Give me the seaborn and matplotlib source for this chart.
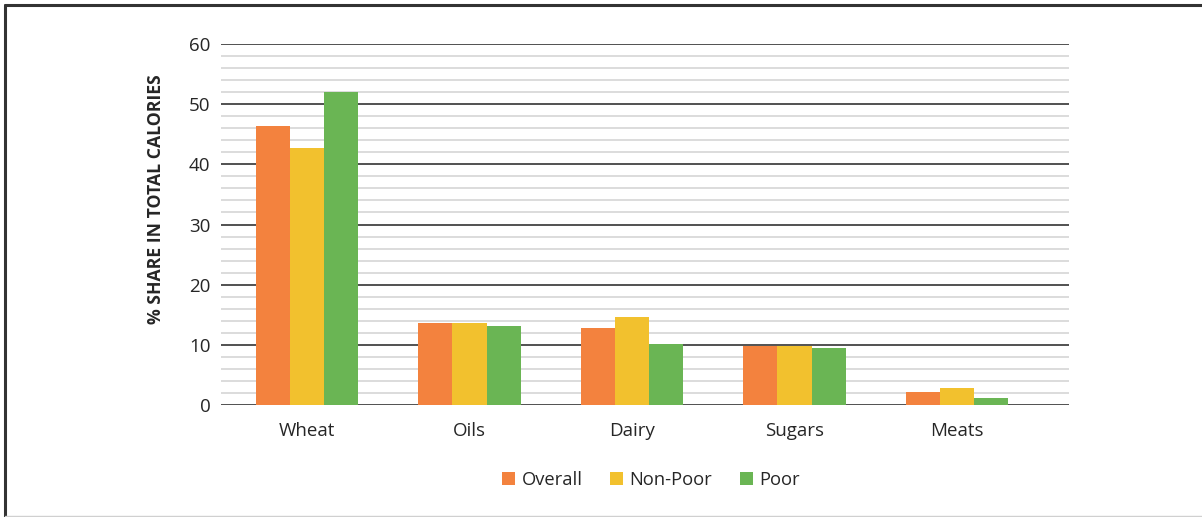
import matplotlib
matplotlib.use("Agg")
import matplotlib.pyplot as plt
from matplotlib.lines import Line2D
from matplotlib.ticker import MultipleLocator
import seaborn as sns
import pandas as pd

categories = ["Wheat", "Oils", "Dairy", "Sugars", "Meats"]
series_names = ["Overall", "Non-Poor", "Poor"]
overall = [46.4, 13.7, 12.8, 9.8, 2.1]
non_poor = [42.7, 13.7, 14.7, 9.8, 2.8]
poor = [52.0, 13.2, 10.1, 9.4, 1.2]
colors = ["#F3823E", "#F2C12E", "#6AB554"]
y_label = "% SHARE IN TOTAL CALORIES"

rows = []
for name, vals in zip(series_names, [overall, non_poor, poor]):
    for c, v in zip(categories, vals):
        rows.append({"Category": c, "Series": name, "Value": v})
df = pd.DataFrame(rows)

sns.set_theme(style="white")
plt.rcParams["font.family"] = ["Open Sans", "DejaVu Sans"]

fig = plt.figure(figsize=(12.02, 5.17), dpi=100)
ax = fig.add_axes([221/1202, 1-405/517, (1069-221)/1202, (405-44)/517])

sns.barplot(data=df, x="Category", y="Value", hue="Series", order=categories,
            hue_order=series_names, palette=colors, width=0.63, gap=0,
            saturation=1, ax=ax, zorder=3, edgecolor="none")

ax.set_ylim(0, 60)
ax.set_xlim(-0.529, 4.689)
ax.yaxis.set_major_locator(MultipleLocator(10))
ax.yaxis.set_minor_locator(MultipleLocator(2))
ax.grid(which="minor", axis="y", color="#D9D9D9", linewidth=1.3, zorder=0)
ax.grid(which="major", axis="y", color="#333333", linewidth=1.2, zorder=1)
ax.set_axisbelow(True)
for s in ax.spines.values():
    s.set_visible(False)
ax.tick_params(axis="both", which="both", length=0, labelsize=13.5, colors="#262626")
ax.tick_params(axis="y", pad=7.5)
ax.tick_params(axis="x", pad=12)
ax.set_xlabel("")
ax.set_ylabel(y_label, fontsize=12.7, fontweight="bold", color="#262626")
ax.yaxis.set_label_coords(-0.0655, 0.571)

handles, labels = ax.get_legend_handles_labels()
ax.legend_.remove()
fig.legend(handles, labels, loc="center", bbox_to_anchor=(651/1202, 1-480/517), ncol=3,
           frameon=False, fontsize=13.2, handlelength=0.7, handleheight=0.7,
           columnspacing=1.5, handletextpad=0.35, labelcolor="#262626")

# figure frame
fig.add_artist(Line2D([5/1202, 5/1202], [0, 1-5/517], color="#333333", linewidth=2.2, transform=fig.transFigure))
fig.add_artist(Line2D([5/1202, 1], [1-5/517, 1-5/517], color="#333333", linewidth=2.2, transform=fig.transFigure))
fig.add_artist(Line2D([5/1202, 1], [1/517, 1/517], color="#D0D0D0", linewidth=1, transform=fig.transFigure))

fig.savefig("out.png", dpi=100)
